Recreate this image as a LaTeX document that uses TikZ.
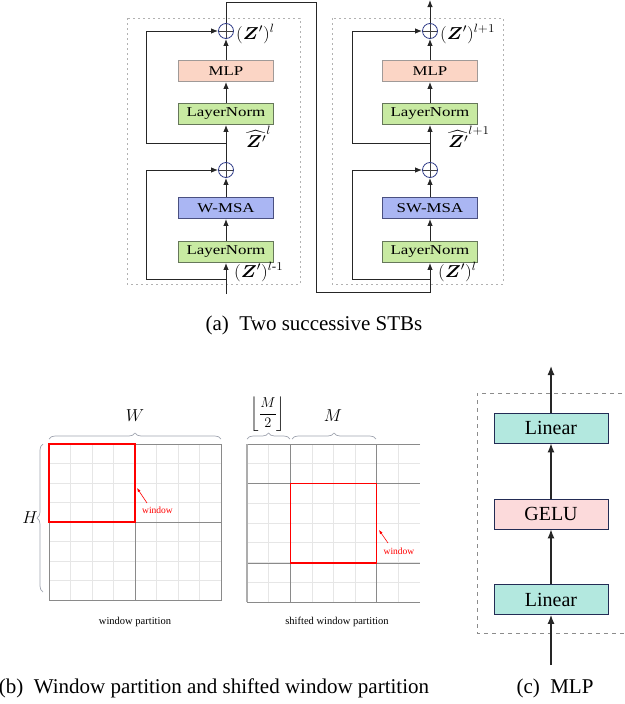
\documentclass[tikz,border=0pt]{standalone}
\usepackage{fontspec}
\setmainfont{Liberation Serif}
\newfontfamily\wfont[FakeStretch=1.25]{Liberation Serif}
\usepackage{amsmath,bm,graphicx}
\usetikzlibrary{arrows.meta,decorations.pathreplacing,calc}
\definecolor{mlpc}{HTML}{FBD5C5}
\definecolor{mlpb}{HTML}{A09A98}
\definecolor{lnc}{HTML}{C8EAA2}
\definecolor{lnb}{HTML}{66775A}
\definecolor{msac}{HTML}{AAB6F3}
\definecolor{msab}{HTML}{4A5080}
\definecolor{linc}{HTML}{B3E8DF}
\definecolor{geluc}{HTML}{FCDADB}
\definecolor{navyb}{HTML}{232C55}
\definecolor{plusc}{HTML}{2E3A87}
\definecolor{gridf}{HTML}{E6E6E6}
\definecolor{gridq}{HTML}{8A8A8A}
\definecolor{braceg}{HTML}{A0A4B0}
\tikzset{
  blk/.style={draw, line width=0.8pt, minimum width=95pt, minimum height=21pt, inner sep=0pt, font=\wfont\fontsize{13.5}{15}\selectfont},
  blkm/.style={blk, fill=mlpc, draw=mlpb},
  blkl/.style={blk, fill=lnc, draw=lnb},
  blka/.style={blk, fill=msac, draw=msab},
  cblk/.style={draw=navyb, line width=0.9pt, minimum width=114pt, minimum height=30pt, inner sep=0pt, font=\fontsize{20}{22}\selectfont},
  plusnode/.style={circle, draw=plusc, line width=0.8pt, minimum size=15pt, inner sep=0pt,
    path picture={\draw[black!75, line width=0.7pt] (path picture bounding box.north) -- (path picture bounding box.south)
      (path picture bounding box.west) -- (path picture bounding box.east);}},
  wire/.style={draw=black!85, line width=1pt},
  arr/.style={wire, -{Latex[length=7pt,width=5.5pt]}},
  carr/.style={draw=black!85, line width=1.2pt, -{Latex[length=9pt,width=7pt]}},
  dotbox/.style={draw=black!30, line width=0.8pt, dash pattern=on 2pt off 3pt},
  dashbox/.style={draw=black!45, line width=0.7pt, dash pattern=on 4pt off 4pt},
  lbl/.style={font=\fontsize{17}{19}\selectfont, inner sep=0pt},
  fineln/.style={draw=gridf, line width=0.6pt},
  quadln/.style={draw=gridq, line width=0.9pt},
  winbox/.style={draw=red, line width=1.4pt},
  wintxt/.style={text=red, font=\fontsize{9.5}{11}\selectfont, inner sep=0pt},
  winarr/.style={draw=red, line width=0.6pt, -{Latex[length=4pt,width=3pt]}},
  brc/.style={draw=braceg, line width=0.7pt, decorate, decoration={brace, amplitude=6pt}},
  smallcap/.style={font=\fontsize{10.5}{12}\selectfont},
  bigcap/.style={font=\fontsize{21}{23}\selectfont}
}
\begin{document}
\begin{tikzpicture}[x=1pt,y=-1pt]
\useasboundingbox (0,0) rectangle (624,704);
% ---------------- (a) ----------------
\draw[dotbox] (127,18) rectangle (300,284);
\draw[dotbox] (332,18) rectangle (503,284);
% left block
\node[blkm] (mlpA) at (226,71) {MLP};
\node[blkl] (lnAb) at (226,114) {LayerNorm};
\node[blka] (msaA) at (226,208) {W-MSA};
\node[blkl] (lnAa) at (226,252) {LayerNorm};
\node[plusnode] (pAa) at (226,170) {};
\node[plusnode] (pAb) at (226,31) {};
\coordinate (inA) at (226,294);
\coordinate (sAa) at (226,279);
\coordinate (kAa) at (146,279);
\coordinate (sAb) at (226,143);
\coordinate (kAb) at (146,143);
\draw[arr] (inA) -- (lnAa);
\draw[arr] (lnAa) -- (msaA);
\draw[arr] (msaA) -- (pAa);
\draw[arr] (pAa) -- (lnAb);
\draw[arr] (lnAb) -- (mlpA);
\draw[arr] (mlpA) -- (pAb);
\draw[arr] (sAa) -- (kAa) |- (pAa);
\draw[arr] (sAb) -- (kAb) |- (pAb);
% right block
\node[blkm] (mlpB) at (430,71) {MLP};
\node[blkl] (lnBb) at (430,114) {LayerNorm};
\node[blka] (msaB) at (430,208) {SW-MSA};
\node[blkl] (lnBa) at (430,252) {LayerNorm};
\node[plusnode] (pBa) at (430,170) {};
\node[plusnode] (pBb) at (430,31) {};
\coordinate (sBa) at (430,279);
\coordinate (kBa) at (352,279);
\coordinate (sBb) at (430,143);
\coordinate (kBb) at (352,143);
\coordinate (outB) at (430,0);
\draw[arr] (lnBa) -- (msaB);
\draw[arr] (msaB) -- (pBa);
\draw[arr] (pBa) -- (lnBb);
\draw[arr] (lnBb) -- (mlpB);
\draw[arr] (mlpB) -- (pBb);
\draw[arr] (pBb) -- (outB);
\draw[arr] (sBa) -- (kBa) |- (pBa);
\draw[arr] (sBb) -- (kBb) |- (pBb);
% connecting wire
\coordinate (c1) at (226,2);
\coordinate (c2) at (316,2);
\coordinate (c3) at (316,292);
\coordinate (c4) at (430,292);
\draw[arr] (pAb) -- (c1) -- (c2) -- (c3) -- (c4) -- (lnBa);
% labels
\node[lbl, anchor=west] (zA1) at (236,34) {\scalebox{1.1}[1]{$(\bm{Z}')^{l}$}};
\node[lbl, anchor=west] (zA2) at (246,137) {\scalebox{1.1}[1]{$\widehat{\bm{Z}'}^{l}$}};
\node[lbl, anchor=west] (zA3) at (234,272) {\scalebox{1.1}[1]{$(\bm{Z}')^{l\text{-}1}$}};
\node[lbl, anchor=west] (zB1) at (440,34) {\scalebox{1.1}[1]{$(\bm{Z}')^{l+1}$}};
\node[lbl, anchor=west] (zB2) at (448,137) {\scalebox{1.1}[1]{$\widehat{\bm{Z}'}^{l+1}$}};
\node[lbl, anchor=west] (zB3) at (438,272) {\scalebox{1.1}[1]{$(\bm{Z}')^{l}$}};
\node[bigcap] (capA) at (314,325) {(a)\ \ Two successive STBs};
% ---------------- (b) ----------------
% left grid
\foreach \i in {1,...,7} {
  \draw[fineln] ({49+\i*21.5},444) -- ({49+\i*21.5},600);
  \draw[fineln] (49,{444+\i*19.5}) -- (221,{444+\i*19.5});
}
\draw[quadln] (135,444) -- (135,600);
\draw[quadln] (49,522) -- (221,522);
\draw[quadln] (49,444) rectangle (221,600);
\draw[winbox] (49,444) rectangle (135,522);
\node[wintxt] (wl1) at (157.5,510) {window};
\coordinate (wt1) at (137,488);
\draw[winarr] (147,503) -- (wt1);
\draw[brc] (49,439) -- (221,439);
\node[lbl, font=\fontsize{16}{18}\selectfont] (Wl) at (135,416) {$W$};
\draw[brc] (43,592) -- (43,444);
\node[lbl, font=\fontsize{16}{18}\selectfont] (Hl) at (30,518) {$H$};
\node[smallcap] (capb1) at (135,622) {window partition};
% right grid
\foreach \i in {1,...,7} {
  \draw[fineln] ({247+\i*21.6},444) -- ({247+\i*21.6},602);
  \draw[fineln] (247,{444+\i*19.75}) -- (420,{444+\i*19.75});
}
\draw[quadln] (290.2,444) -- (290.2,602);
\draw[quadln] (376.6,444) -- (376.6,602);
\draw[quadln] (247,483.5) -- (420,483.5);
\draw[quadln] (247,563) -- (420,563);
\draw[quadln] (420,444) -- (247,444) -- (247,602) -- (420,602);
\draw[draw=gridq!70, line width=1.6pt] (247,444) -- (247,602);
\draw[winbox] (290.2,483.5) rectangle (376.6,563);
\node[wintxt] (wl2) at (399,551) {window};
\coordinate (wt2) at (379,530);
\draw[winarr] (388,543) -- (wt2);
\draw[brc] (247,439) -- (290,439);
\draw[brc] (292,439) -- (376,439);
\node[lbl, font=\fontsize{15}{17}\selectfont] (M2l) at (268,414) {$\left\lfloor \dfrac{M}{2} \right\rfloor$};
\node[lbl, font=\fontsize{16}{18}\selectfont] (Ml) at (333,416) {$M$};
\node[smallcap] (capb2) at (337,622) {shifted window partition};
\node[bigcap] (capB) at (214,688) {(b)\ \ Window partition and shifted window partition};
% ---------------- (c) ----------------
\draw[dashbox] (630,393) -- (477,393) -- (477,633) -- (630,633);
\node[cblk, fill=linc] (lin2) at (551,428) {Linear};
\node[cblk, fill=geluc] (gelu) at (551,514) {GELU};
\node[cblk, fill=linc] (lin1) at (551,599.5) {Linear};
\coordinate (inC) at (551,665);
\coordinate (outC) at (551,366);
\draw[carr] (inC) -- (lin1);
\draw[carr] (lin1) -- (gelu);
\draw[carr] (gelu) -- (lin2);
\draw[carr] (lin2) -- (outC);
\node[bigcap] (capC) at (555,688) {(c)\ \ MLP};
\end{tikzpicture}
\end{document}
